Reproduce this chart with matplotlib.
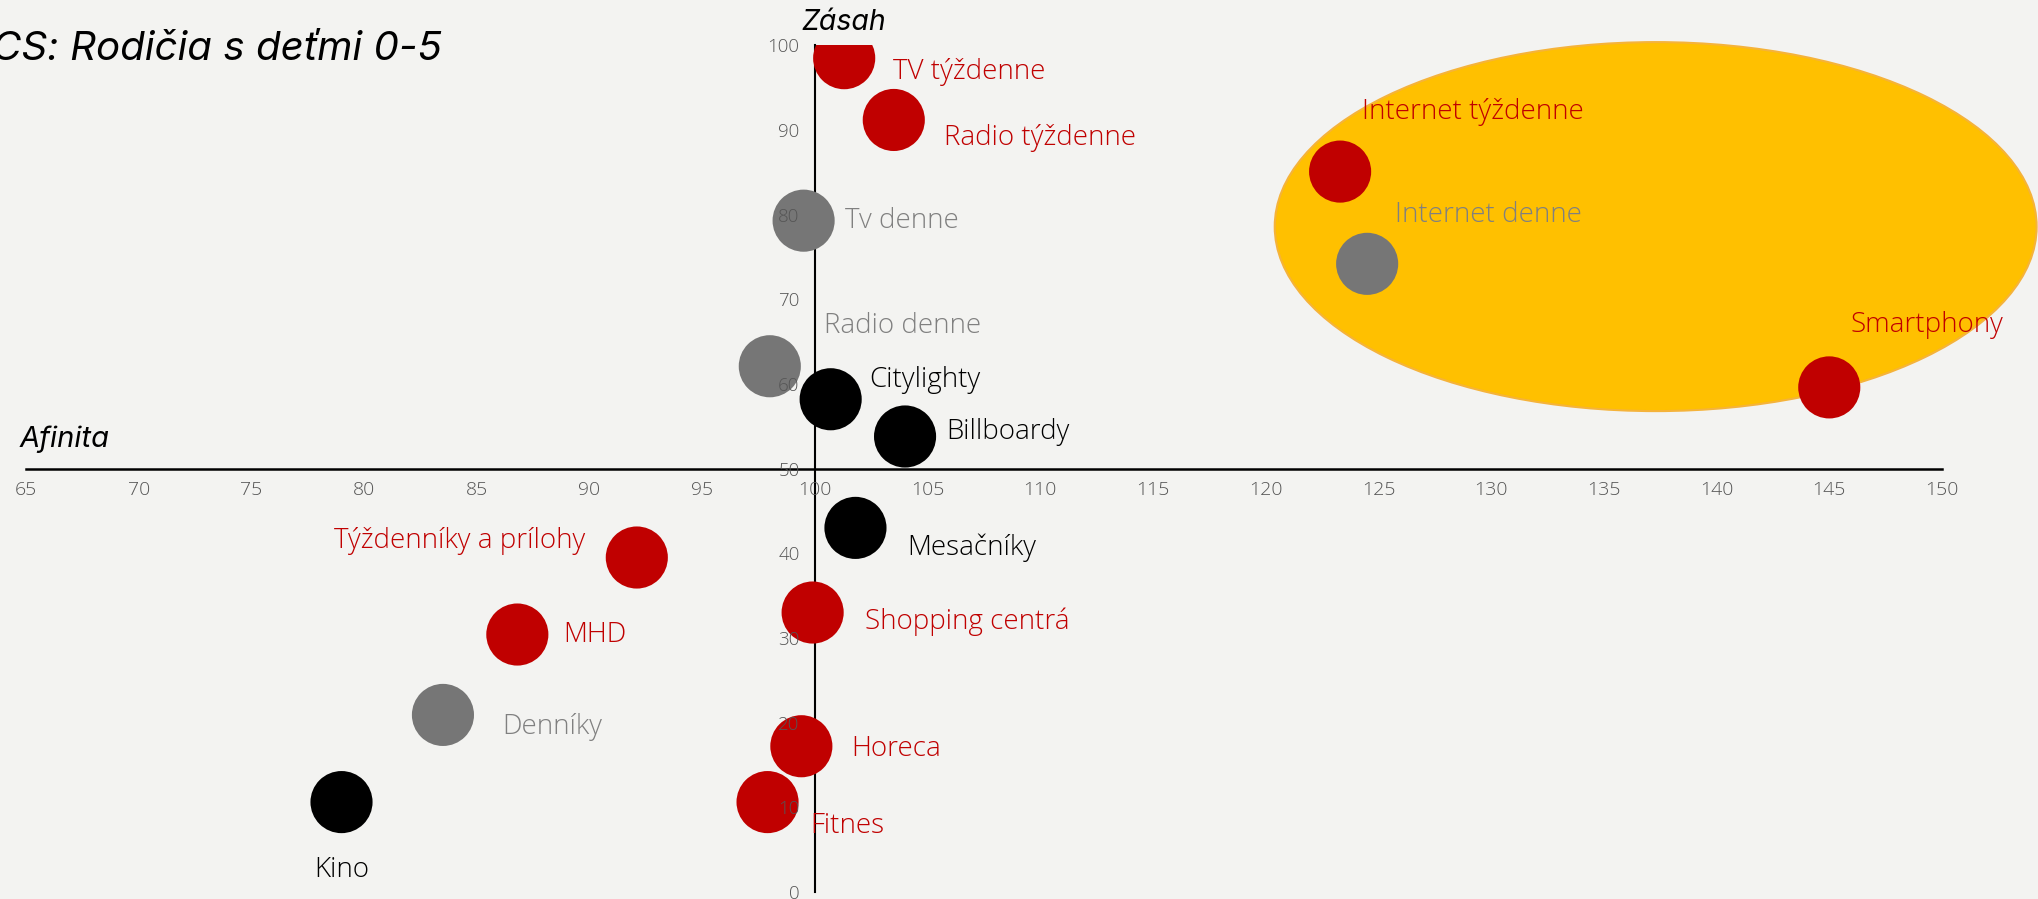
import matplotlib.pyplot as plt
from matplotlib.patches import Ellipse

# Data
media = ['TV týždenne', 'Radio týždenne', 'Tv denne', 'Radio denne', 'Citylighty',
         'Billboardy', 'Mesačníky', 'Týždenníky a prílohy', 'MHD', 'Shopping centrá',
         'Denníky', 'Horeca', 'Fitnes', 'Kino', 'Internet týždenne', 'Internet denne',
         'Smartphony']
afinita = [101.3, 103.5, 99.5, 98.0, 100.7, 104.0, 101.8, 92.1, 86.8, 99.9,
           83.5, 99.4, 97.9, 79.0, 123.3, 124.5, 145.0]
zasah = [98.5, 91.2, 79.3, 62.1, 58.2, 53.8, 43.0, 39.5, 30.4, 33.0,
         20.9, 17.2, 10.6, 10.6, 85.1, 74.2, 59.6]
group = ['w', 'w', 'd', 'd', 'o', 'o', 'o', 'w', 'w', 'w',
         'd', 'w', 'w', 'o', 'w', 'd', 'w']

# highlighted area (center x, center y, width, height)
highlight = (137.3, 78.6, 33.8, 43.6)

x_ticks = list(range(65, 151, 5))
y_ticks = list(range(0, 101, 10))

# Styles
point_colors = {'w': '#C00000', 'd': '#767676', 'o': '#000000'}
label_colors = {'w': '#C00000', 'd': '#808080', 'o': '#000000'}
# label offsets in points and horizontal alignment
offsets = [(35, -10), (36, -13), (30, 0), (39, 29), (28, 14), (30, 3), (37, -14),
           (-37, 12), (33, 0), (38, -7), (43, -9), (36, -2), (31, -17), (0, -49),
           (16, 43), (20, 35), (15, 45)]
aligns = ['left'] * 7 + ['right'] + ['left'] * 5 + ['center'] + ['left'] * 3

plt.rcParams['font.family'] = ['Open Sans', 'DejaVu Sans']
plt.rcParams['font.weight'] = 'light'
bg = '#F3F3F1'
italic_font = ['Inter', 'DejaVu Sans']

fig = plt.figure(figsize=(20.38, 8.99), dpi=100, facecolor=bg)
ax = fig.add_axes([0, 0, 1, 0.9494])
ax.set_facecolor(bg)
ax.set_xlim(63.85, 154.26)
ax.set_ylim(-0.85, 100)

# Ellipse behind the points
ax.add_patch(Ellipse((highlight[0], highlight[1]), highlight[2], highlight[3],
                     facecolor='#FFC000', edgecolor='#F5B33A', linewidth=1.5,
                     zorder=0.8, clip_on=False))

ax.scatter(afinita, zasah, s=2000, c=[point_colors[g] for g in group],
           linewidths=0, zorder=2)

for name, x, y, g, off, ha in zip(media, afinita, zasah, group, offsets, aligns):
    ax.annotate(name, (x, y), xytext=off, textcoords='offset points',
                ha=ha, va='center', fontsize=20, color=label_colors[g],
                zorder=3)

# Axes crossing at (100, 50)
for side in ['top', 'right']:
    ax.spines[side].set_visible(False)
ax.spines['left'].set_position(('data', 100))
ax.spines['bottom'].set_position(('data', 50))
ax.spines['left'].set_bounds(0, 100)
ax.spines['bottom'].set_bounds(65, 150)
ax.spines['left'].set_linewidth(1.5)
ax.spines['bottom'].set_linewidth(1.8)
for side in ['left', 'bottom']:
    ax.spines[side].set_zorder(1)
ax.set_axisbelow(False)

ax.set_xticks(x_ticks)
ax.set_yticks(y_ticks)
ax.tick_params(axis='x', length=0, pad=9, labelsize=14, labelcolor='#555555')
ax.tick_params(axis='y', length=0, pad=11, labelsize=13.5, labelcolor='#555555')

# Axis names and title
ax.text(65.0 - 0.3, 51.8, 'Afinita', fontsize=21, style='italic', weight='normal',
        family=italic_font, ha='left', va='bottom')
fig.text(844 / 2038, 1 - 22 / 899, 'Zásah', fontsize=20.5, style='italic',
         weight='normal', family=italic_font, ha='center', va='center')
fig.text(442 / 2038, 1 - 50 / 899, 'CS: Rodičia s deťmi 0-5', fontsize=29,
         style='italic', weight='normal', family=italic_font, ha='right', va='center')

plt.savefig('out.png', dpi=100, facecolor=bg)
